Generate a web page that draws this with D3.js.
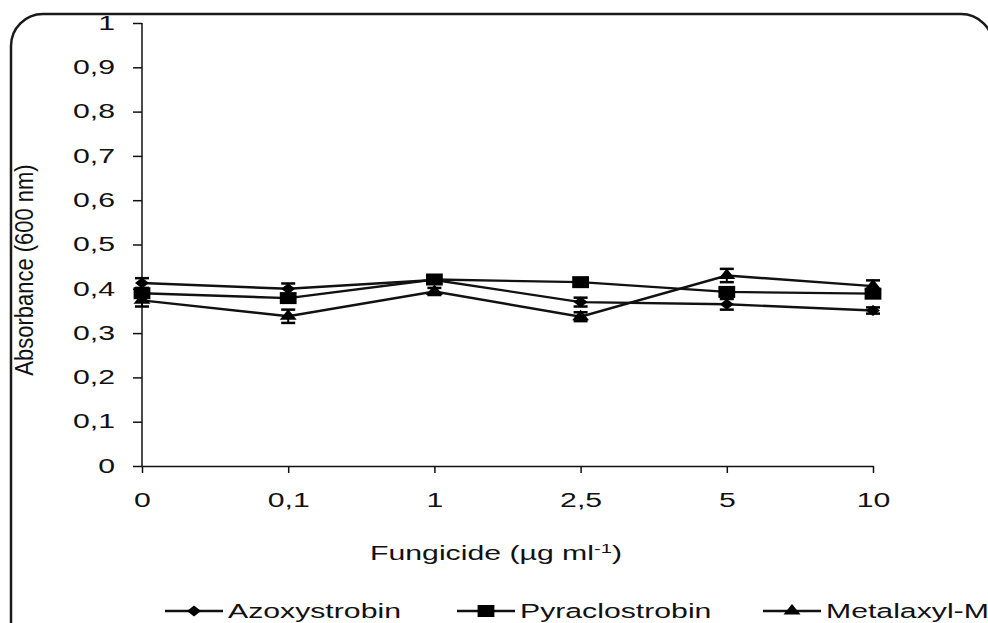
<!DOCTYPE html>
<html>
<head>
<meta charset="utf-8">
<script src="https://d3js.org/d3.v7.min.js"></script>
<style>
body { margin: 0; background: #fff; }
svg { display: block; }
text { font-family: "Liberation Sans", Arial, sans-serif; fill: #111; }
</style>
</head>
<body>
<svg width="988" height="623"></svg>
<script>
// concentrations (categorical x)
var doses = ["0", "0,1", "1", "2,5", "5", "10"];
var yTicks = [0, 0.1, 0.2, 0.3, 0.4, 0.5, 0.6, 0.7, 0.8, 0.9, 1];

var azoxystrobin = [0.413, 0.400, 0.420, 0.370, 0.365, 0.351];
var azoxystrobinErr = [0.011, 0.012, 0.006, 0.010, 0.012, 0.007];

var pyraclostrobin = [0.390, 0.379, 0.421, 0.415, 0.393, 0.389];
var pyraclostrobinErr = [0.008, 0.008, 0.006, 0.006, 0.010, 0.008];

var metalaxyl = [0.374, 0.338, 0.394, 0.337, 0.430, 0.406];
var metalaxylErr = [0.014, 0.015, 0.008, 0.010, 0.015, 0.013];

var seriesNames = ["Azoxystrobin", "Pyraclostrobin", "Metalaxyl-M"];

// the original picture is stretched sideways, so text and markers get a scaleX
var SX = 1.55;

var diamond = { draw: function (ctx, size) {
    ctx.moveTo(0, -5.5); ctx.lineTo(5, 0); ctx.lineTo(0, 5.5); ctx.lineTo(-5, 0); ctx.closePath();
}};

var series = [
    {name: seriesNames[0], values: azoxystrobin, err: azoxystrobinErr, shape: diamond, size: 60},
    {name: seriesNames[1], values: pyraclostrobin, err: pyraclostrobinErr, shape: d3.symbolSquare, size: 144},
    {name: seriesNames[2], values: metalaxyl, err: metalaxylErr, shape: d3.symbolTriangle, size: 64}
];

var svg = d3.select("svg");

// rounded frame, partly cropped on right and bottom
svg.append("rect")
    .attr("x", 11).attr("y", 14)
    .attr("width", 982).attr("height", 650)
    .attr("rx", 32).attr("ry", 32)
    .attr("fill", "none").attr("stroke", "#1a1a1a").attr("stroke-width", 2.5);

var x = d3.scalePoint().domain(doses).range([142, 873]);
var y = d3.scaleLinear().domain([0, 1]).range([466, 23]);

var yAxis = svg.append("g").attr("transform", "translate(142,0)")
    .call(d3.axisLeft(y).tickValues(yTicks).tickSize(9).tickSizeOuter(0).tickPadding(18)
        .tickFormat(function (d) { return d === 0 || d === 1 ? String(d) : String(d).replace(".", ","); }));

var xAxis = svg.append("g").attr("transform", "translate(0,466)")
    .call(d3.axisBottom(x).tickSize(7).tickSizeOuter(0).tickPadding(20));

[yAxis, xAxis].forEach(function (a) {
    a.select(".domain").attr("stroke", "#111").attr("stroke-width", 1.5);
    a.selectAll(".tick line").attr("stroke", "#111").attr("stroke-width", 1.5);
    a.selectAll(".tick text").style("font-size", "19.5px").attr("fill", "#111");
});
yAxis.selectAll(".tick text").attr("x", -27 / SX).attr("transform", "scale(" + SX + ",1)");
xAxis.selectAll(".tick text").attr("transform", "scale(" + SX + ",1)");
// the y axis line extends over the full range
yAxis.select(".domain").attr("d", "M0," + y(1) + "V" + y(0));

svg.append("text")
    .attr("transform", "translate(33,270) rotate(-90) scale(1,1.15)")
    .attr("text-anchor", "middle")
    .style("font-size", "22px")
    .text("Absorbance (600 nm)");

var xl = svg.append("text")
    .attr("transform", "translate(496,560) scale(" + SX + ",1)")
    .attr("text-anchor", "middle")
    .style("font-size", "19.5px");
xl.append("tspan").text("Fungicide (µg ml");
xl.append("tspan").attr("dy", -7).style("font-size", "13px").text("-1");
xl.append("tspan").attr("dy", 7).text(")");

var line = d3.line()
    .x(function (d, i) { return x(doses[i]); })
    .y(function (d) { return y(d); });

function marker(g, s, cx, cy) {
    g.append("path")
        .attr("transform", "translate(" + cx + "," + cy + ") scale(1.4,1)")
        .attr("d", d3.symbol().type(s.shape).size(s.size)())
        .attr("fill", "#000");
}

series.forEach(function (s) {
    var g = svg.append("g");
    g.append("path").datum(s.values)
        .attr("d", line)
        .attr("fill", "none").attr("stroke", "#111").attr("stroke-width", 2.4);

    s.values.forEach(function (v, i) {
        var cx = x(doses[i]);
        var top = y(v + s.err[i]), bot = y(v - s.err[i]);
        g.append("line").attr("x1", cx).attr("x2", cx).attr("y1", top).attr("y2", bot)
            .attr("stroke", "#000").attr("stroke-width", 2);
        g.append("line").attr("x1", cx - 7).attr("x2", cx + 7).attr("y1", top).attr("y2", top)
            .attr("stroke", "#000").attr("stroke-width", 2.5);
        g.append("line").attr("x1", cx - 7).attr("x2", cx + 7).attr("y1", bot).attr("y2", bot)
            .attr("stroke", "#000").attr("stroke-width", 2.5);
        marker(g, s, cx, y(v));
    });
});

// legend
var legendX = [165, 457, 763];
series.forEach(function (s, i) {
    var lx = legendX[i], ly = 611;
    var g = svg.append("g");
    g.append("line").attr("x1", lx).attr("x2", lx + 58).attr("y1", ly).attr("y2", ly)
        .attr("stroke", "#111").attr("stroke-width", 2.4);
    marker(g, s, lx + 29, ly);
    g.append("text")
        .attr("transform", "translate(" + (lx + 63) + "," + (ly + 7) + ") scale(" + SX + ",1)")
        .style("font-size", "19.5px")
        .text(s.name);
});
</script>
</body>
</html>
